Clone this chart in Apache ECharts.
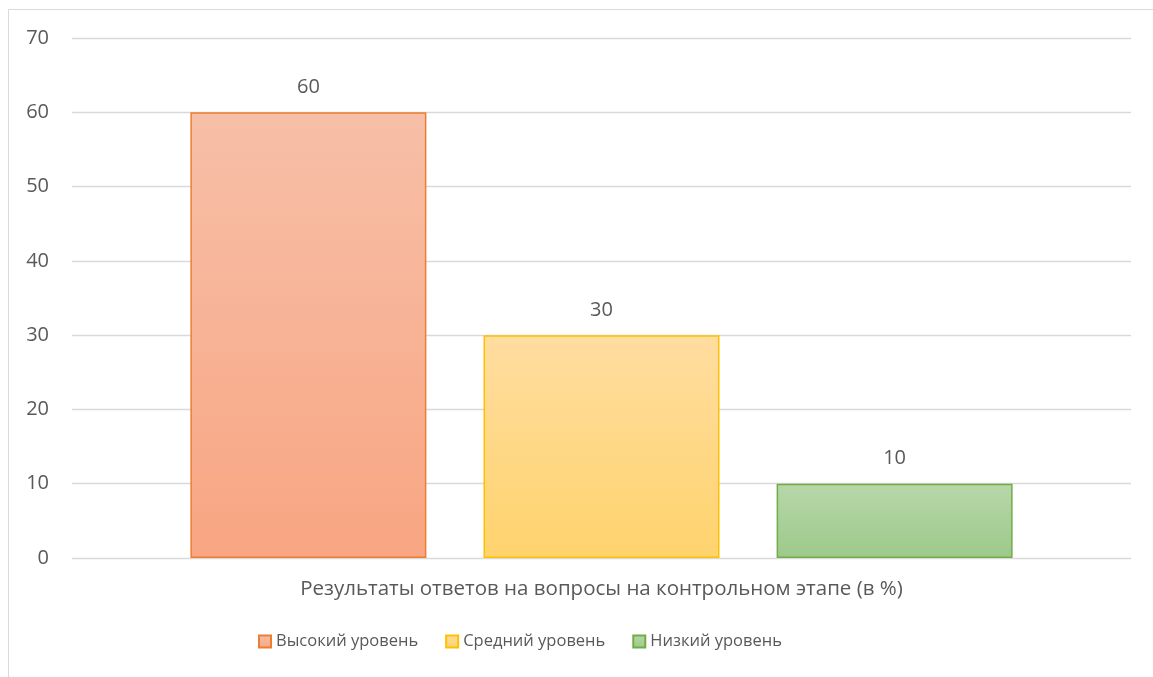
<!DOCTYPE html>
<html><head><meta charset="utf-8">
<script src="https://cdn.jsdelivr.net/npm/echarts@6/dist/echarts.min.js"></script>
<style>html,body{margin:0;padding:0;background:#fff}#c{width:1153px;height:677px}</style>
</head><body><div id="c"></div>
<script>
const categories = ['Результаты ответов на вопросы на контрольном этапе (в %)'];
const seriesNames = ['Высокий уровень', 'Средний уровень', 'Низкий уровень'];
const highValues = [60];
const midValues = [30];
const lowValues = [10];
const yTicks = [0, 10, 20, 30, 40, 50, 60, 70];

const FONT = 'Open Sans';
const styles = [
  {top:'#F7BFA8', bottom:'#F8A582', border:'#ED7D31'},
  {top:'#FFDDA0', bottom:'#FFD36D', border:'#FFC000'},
  {top:'#B7D7A9', bottom:'#9DC98A', border:'#70AD47'}
];
const dataSets = [highValues, midValues, lowValues];
const chart = echarts.init(document.getElementById('c'));
chart.setOption({
  animation:false,
  textStyle:{fontFamily:FONT},
  graphic:[{type:'rect', shape:{x:8.5,y:9.5,width:1200,height:800}, style:{fill:'none', stroke:'#D9D9D9', lineWidth:1}, silent:true}],
  grid:{left:72, right:22, top:38, bottom:119},
  legend:{bottom:22, left:253, icon:'rect', itemWidth:12, itemHeight:12, itemGap:27,
    textStyle:{fontFamily:FONT, fontSize:16.5, color:'#595959'},
    data:seriesNames},
  xAxis:{type:'category', data:categories,
    axisLine:{show:false}, axisTick:{show:false},
    axisLabel:{fontFamily:FONT, fontSize:20.5, color:'#595959', margin:21}},
  yAxis:{type:'value', min:yTicks[0], max:yTicks[yTicks.length-1], interval:10,
    axisLine:{show:false}, axisTick:{show:false},
    axisLabel:{fontFamily:FONT, fontSize:20, color:'#595959', margin:23},
    splitLine:{lineStyle:{color:'#D9D9D9', width:1.3}}},
  series: seriesNames.map((n,i)=>({
    name:n, type:'bar', data:dataSets[i], barWidth:236, barGap:'24.2%',
    itemStyle:{color:new echarts.graphic.LinearGradient(0,0,0,1,[{offset:0,color:styles[i].top},{offset:1,color:styles[i].bottom}]),
      borderColor:styles[i].border, borderWidth:1.5},
    label:{show:true, position:'top', distance:15, fontFamily:FONT, fontSize:20, color:'#595959'}
  }))
});
</script></body></html>
